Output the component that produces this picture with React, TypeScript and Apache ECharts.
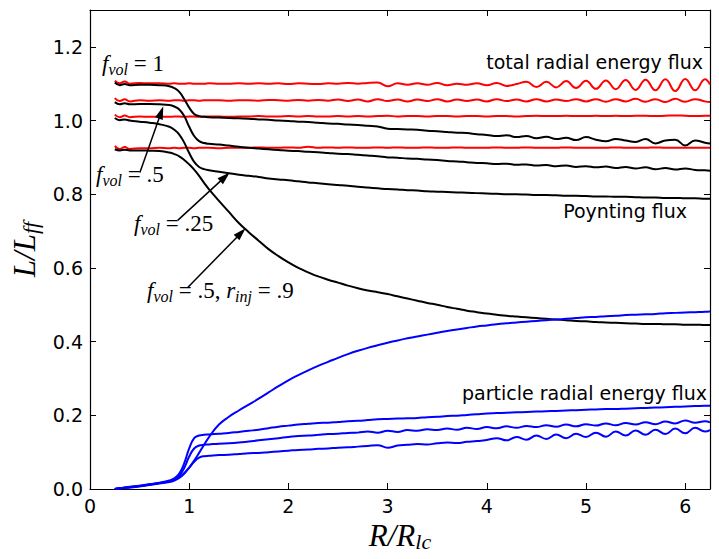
import React, { useEffect, useRef } from "react";
import * as echarts from "echarts";

// shared radius grid (R / R_lc)
const X = [
  0.25, 0.3, 0.35, 0.4, 0.5, 0.6, 0.7, 0.8, 0.85, 0.9, 0.95,
  1.0, 1.05, 1.1, 1.15, 1.2, 1.3, 1.4, 1.5,
  1.6, 1.7, 1.8, 1.9, 2.0, 2.1, 2.2, 2.3, 2.4, 2.5,
  2.6, 2.7, 2.8, 2.9, 3.0, 3.1, 3.2, 3.3, 3.4, 3.5,
  3.6, 3.7, 3.8, 3.9, 4.0, 4.1, 4.2, 4.3, 4.4, 4.5,
  4.6, 4.7, 4.8, 4.9, 5.0, 5.1, 5.2, 5.3, 5.4, 5.5,
  5.6, 5.7, 5.8, 5.9, 6.0, 6.1, 6.2, 6.25,
];

// total radial energy flux (red)
const TOTAL_1 = [
  1.108, 1.101, 1.106, 1.1, 1.102, 1.101, 1.101, 1.1, 1.101, 1.1, 1.1,
  1.101, 1.1, 1.1, 1.1, 1.101, 1.1, 1.1, 1.101,
  1.1, 1.101, 1.1, 1.101, 1.099, 1.101, 1.1, 1.099, 1.101, 1.1,
  1.102, 1.1, 1.102, 1.103, 1.093, 1.101, 1.097, 1.101, 1.097, 1.102,
  1.096, 1.1, 1.097, 1.101, 1.096, 1.102, 1.094, 1.099, 1.105, 1.091,
  1.105, 1.09, 1.107, 1.088, 1.108, 1.086, 1.109, 1.085, 1.11, 1.083,
  1.111, 1.082, 1.112, 1.08, 1.113, 1.082, 1.112, 1.098,
];
const TOTAL_2 = [
  1.061, 1.053, 1.058, 1.052, 1.055, 1.054, 1.055, 1.054, 1.055, 1.055, 1.054,
  1.055, 1.055, 1.054, 1.055, 1.055, 1.055, 1.054, 1.055,
  1.055, 1.054, 1.056, 1.055, 1.054, 1.056, 1.054, 1.056, 1.054, 1.057,
  1.053, 1.057, 1.052, 1.058, 1.053, 1.057, 1.052, 1.057, 1.053, 1.058,
  1.052, 1.057, 1.053, 1.057, 1.052, 1.058, 1.053, 1.057, 1.052, 1.058,
  1.052, 1.057, 1.053, 1.058, 1.052, 1.058, 1.051, 1.058, 1.052, 1.059,
  1.051, 1.058, 1.05, 1.059, 1.051, 1.058, 1.052, 1.05,
];
const TOTAL_3 = [
  1.016, 1.009, 1.014, 1.009, 1.011, 1.01, 1.011, 1.01, 1.011, 1.011, 1.01,
  1.011, 1.011, 1.01, 1.011, 1.011, 1.011, 1.01, 1.011,
  1.011, 1.012, 1.011, 1.011, 1.012, 1.011, 1.012, 1.011, 1.011, 1.012,
  1.011, 1.012, 1.011, 1.012, 1.013, 1.011, 1.012, 1.012, 1.011, 1.012,
  1.012, 1.011, 1.012, 1.012, 1.011, 1.012, 1.012, 1.011, 1.012, 1.013,
  1.012, 1.012, 1.013, 1.012, 1.012, 1.013, 1.012, 1.013, 1.012, 1.013,
  1.013, 1.012, 1.013, 1.014, 1.013, 1.012, 1.013, 1.013,
];
const TOTAL_4 = [
  0.931, 0.923, 0.928, 0.923, 0.925, 0.925, 0.926, 0.925, 0.926, 0.925, 0.926,
  0.926, 0.925, 0.926, 0.926, 0.926, 0.925, 0.926, 0.926,
  0.926, 0.927, 0.926, 0.926, 0.927, 0.926, 0.929, 0.926, 0.927, 0.926,
  0.927, 0.926, 0.926, 0.927, 0.926, 0.927, 0.926, 0.926, 0.927, 0.926,
  0.926, 0.927, 0.926, 0.926, 0.926, 0.927, 0.926, 0.926, 0.927, 0.926,
  0.926, 0.926, 0.927, 0.926, 0.926, 0.926, 0.926, 0.927, 0.926, 0.926,
  0.926, 0.927, 0.926, 0.926, 0.926, 0.926, 0.926, 0.926,
];

// Poynting flux (black)
const POYNT_1 = [
  1.103, 1.096, 1.099, 1.096, 1.097, 1.097, 1.096, 1.093, 1.088, 1.078, 1.058,
  1.035, 1.018, 1.012, 1.01, 1.009, 1.008, 1.007, 1.006,
  1.005, 1.003, 1.002, 1.0, 0.999, 0.997, 0.996, 0.994, 0.992, 0.991,
  0.989, 0.988, 0.986, 0.984, 0.978, 0.977, 0.976, 0.975, 0.972, 0.971,
  0.969, 0.967, 0.966, 0.963, 0.961, 0.958, 0.96, 0.955, 0.958, 0.952,
  0.956, 0.95, 0.953, 0.947, 0.955, 0.948, 0.944, 0.95, 0.946, 0.942,
  0.95, 0.938, 0.946, 0.948, 0.932, 0.946, 0.94, 0.938,
];
const POYNT_2 = [
  1.05, 1.044, 1.047, 1.044, 1.045, 1.045, 1.044, 1.042, 1.038, 1.03, 1.012,
  0.983, 0.958, 0.944, 0.939, 0.937, 0.935, 0.932, 0.929,
  0.926, 0.924, 0.922, 0.92, 0.918, 0.917, 0.915, 0.914, 0.912, 0.91,
  0.909, 0.907, 0.905, 0.903, 0.9, 0.899, 0.897, 0.896, 0.894, 0.893,
  0.89, 0.889, 0.887, 0.885, 0.884, 0.882, 0.883, 0.88, 0.881, 0.878,
  0.879, 0.876, 0.878, 0.874, 0.876, 0.873, 0.875, 0.871, 0.874, 0.87,
  0.873, 0.868, 0.871, 0.867, 0.87, 0.866, 0.865, 0.864,
];
const POYNT_3 = [
  1.007, 1.001, 1.003, 1.0, 0.997, 0.994, 0.99, 0.983, 0.975, 0.962, 0.94,
  0.912, 0.888, 0.874, 0.868, 0.865, 0.861, 0.857, 0.853,
  0.85, 0.847, 0.843, 0.84, 0.838, 0.835, 0.832, 0.83, 0.827, 0.825,
  0.823, 0.82, 0.818, 0.816, 0.814, 0.813, 0.811, 0.81, 0.808, 0.807,
  0.806, 0.805, 0.804, 0.803, 0.802, 0.801, 0.8, 0.8, 0.799, 0.798,
  0.798, 0.797, 0.796, 0.796, 0.795, 0.794, 0.794, 0.793, 0.793, 0.792,
  0.791, 0.791, 0.79, 0.79, 0.789, 0.789, 0.788, 0.788,
];
const POYNT_4 = [
  0.922, 0.919, 0.921, 0.919, 0.919, 0.918, 0.917, 0.913, 0.909, 0.903, 0.893,
  0.881, 0.867, 0.85, 0.831, 0.813, 0.782, 0.752, 0.722,
  0.697, 0.674, 0.651, 0.632, 0.615, 0.6, 0.588, 0.577, 0.568, 0.56,
  0.552, 0.545, 0.539, 0.534, 0.529, 0.523, 0.517, 0.511, 0.505, 0.5,
  0.494, 0.489, 0.484, 0.48, 0.476, 0.473, 0.47, 0.468, 0.466, 0.464,
  0.462, 0.46, 0.458, 0.456, 0.455, 0.453, 0.452, 0.451, 0.45, 0.449,
  0.448, 0.448, 0.447, 0.447, 0.446, 0.446, 0.445, 0.445,
];

// particle radial energy flux (blue)
const PART_1 = [
  0.0, 0.002, 0.004, 0.005, 0.008, 0.012, 0.016, 0.021, 0.025, 0.032, 0.043,
  0.058, 0.077, 0.098, 0.12, 0.141, 0.175, 0.196, 0.213,
  0.229, 0.245, 0.262, 0.279, 0.295, 0.309, 0.322, 0.334, 0.345, 0.356,
  0.366, 0.375, 0.383, 0.39, 0.397, 0.403, 0.409, 0.414, 0.419, 0.424,
  0.429, 0.433, 0.437, 0.441, 0.444, 0.447, 0.45, 0.452, 0.454, 0.456,
  0.458, 0.46, 0.462, 0.464, 0.466, 0.467, 0.469, 0.47, 0.472, 0.473,
  0.474, 0.475, 0.477, 0.478, 0.479, 0.48, 0.481, 0.482,
];
const PART_2 = [
  0.0, 0.002, 0.004, 0.006, 0.009, 0.013, 0.017, 0.023, 0.029, 0.042, 0.07,
  0.11, 0.138, 0.145, 0.147, 0.148, 0.15, 0.152, 0.155,
  0.158, 0.161, 0.165, 0.169, 0.172, 0.175, 0.177, 0.179, 0.18, 0.182,
  0.184, 0.185, 0.187, 0.189, 0.19, 0.191, 0.192, 0.193, 0.195, 0.196,
  0.198, 0.199, 0.201, 0.203, 0.205, 0.206, 0.207, 0.208, 0.209, 0.21,
  0.211, 0.212, 0.213, 0.214, 0.215, 0.216, 0.217, 0.217, 0.218, 0.219,
  0.22, 0.221, 0.222, 0.223, 0.224, 0.225, 0.226, 0.226,
];
const PART_3 = [
  0.0, 0.002, 0.003, 0.005, 0.008, 0.012, 0.016, 0.021, 0.026, 0.036, 0.057,
  0.088, 0.11, 0.118, 0.12, 0.121, 0.123, 0.124, 0.126,
  0.129, 0.132, 0.135, 0.138, 0.141, 0.144, 0.145, 0.147, 0.149, 0.15,
  0.152, 0.153, 0.156, 0.153, 0.158, 0.155, 0.16, 0.158, 0.162, 0.16,
  0.164, 0.161, 0.166, 0.163, 0.168, 0.165, 0.17, 0.166, 0.171, 0.168,
  0.173, 0.169, 0.175, 0.17, 0.176, 0.172, 0.178, 0.173, 0.179, 0.175,
  0.181, 0.176, 0.183, 0.178, 0.186, 0.18, 0.184, 0.181,
];
const PART_4 = [
  0.0, 0.002, 0.003, 0.004, 0.007, 0.011, 0.015, 0.019, 0.023, 0.03, 0.042,
  0.058, 0.074, 0.085, 0.089, 0.09, 0.092, 0.093, 0.095,
  0.097, 0.098, 0.1, 0.102, 0.104, 0.106, 0.107, 0.109, 0.11, 0.112,
  0.113, 0.115, 0.117, 0.119, 0.112, 0.118, 0.12, 0.122, 0.121, 0.124,
  0.126, 0.125, 0.128, 0.13, 0.133, 0.138, 0.132, 0.141, 0.134, 0.145,
  0.136, 0.148, 0.138, 0.15, 0.141, 0.153, 0.142, 0.156, 0.145, 0.159,
  0.147, 0.161, 0.149, 0.164, 0.151, 0.166, 0.156, 0.16,
];

// annotation arrows: [tail, head] in data coordinates
const ARROWS = [
  [[0.503, 0.859], [0.717, 1.022]],
  [[0.884, 0.729], [1.361, 0.847]],
  [[0.985, 0.547], [1.523, 0.695]],
];

const X_TICKS = [0, 1, 2, 3, 4, 5, 6];
const Y_TICK_STEP = 0.2;

const GROUPS = [
  { color: "#ff0000", lines: [TOTAL_1, TOTAL_2, TOTAL_3, TOTAL_4] },
  { color: "#000000", lines: [POYNT_1, POYNT_2, POYNT_3, POYNT_4] },
  { color: "#0000ff", lines: [PART_1, PART_2, PART_3, PART_4] },
];

const SERIF = '"Liberation Serif", "Times New Roman", serif';
const SANS = '"DejaVu Sans", sans-serif';

export default function App() {
  const ref = useRef<HTMLDivElement>(null);

  useEffect(() => {
    document.body.style.margin = "0";
    const chart = echarts.init(ref.current as HTMLDivElement, undefined, { renderer: "svg" });

    const series: any[] = [];
    GROUPS.forEach((g, gi) => {
      g.lines.forEach((ys, li) => {
        const s: any = {
          type: "line",
          data: X.map((x, i) => [x, ys[i]]),
          showSymbol: false,
          symbol: "none",
          smooth: 0.45,
          lineStyle: { color: g.color, width: 2 },
          itemStyle: { color: g.color },
          silent: true,
          z: 2 + gi,
        };
        if (gi === 1 && li === 3) {
          s.markLine = {
            silent: true,
            animation: false,
            symbol: ["none", "triangle"],
            symbolSize: [8, 13],
            label: { show: false },
            lineStyle: { color: "#000", width: 1.5, type: "solid" },
            data: ARROWS.map((a) => [{ coord: a[0] }, { coord: a[1] }]),
          };
        }
        series.push(s);
      });
    });

    const axisLine = { show: true, onZero: false, lineStyle: { color: "#000", width: 1.2 } };
    const axisTick = { show: true, inside: true, length: 6, lineStyle: { color: "#000", width: 1 } };
    const nameRich = {
      i: { fontFamily: SERIF, fontStyle: "italic", fontSize: 31, lineHeight: 34, color: "#000" },
      s: { fontFamily: SERIF, fontStyle: "italic", fontSize: 22, lineHeight: 22, verticalAlign: "bottom", color: "#000" },
    };

    const fRich = {
      f: { font: `italic 23px ${SERIF}`, lineHeight: 28, fill: "#000" },
      s: { font: `italic 16px ${SERIF}`, lineHeight: 15, verticalAlign: "bottom", fill: "#000" },
      n: { font: `23px ${SERIF}`, lineHeight: 28, fill: "#000" },
    };

    const fLabel = (text: string, left: number, top: number) => ({
      type: "text",
      left,
      top,
      z: 100,
      style: { text, rich: fRich, fill: "#000" },
    });
    const sansLabel = (text: string, x: number, y: number) => ({
      type: "text",
      x,
      y,
      z: 100,
      style: { text, font: `19px ${SANS}`, fill: "#000", align: "right", verticalAlign: "middle" },
    });

    const option: any = {
      animation: false,
      backgroundColor: "#ffffff",
      grid: { left: 90, right: 9, top: 10, bottom: 70, containLabel: false },
      xAxis: [
        {
          type: "value",
          min: X_TICKS[0],
          max: 6.25,
          interval: 1,
          position: "bottom",
          name: "{i|R/R}{s|lc}",
          nameLocation: "middle",
          nameGap: 20,
          nameTextStyle: { rich: nameRich },
          axisLine,
          axisTick,
          axisLabel: { color: "#000", fontFamily: SANS, fontSize: 19, margin: 7, showMaxLabel: false },
          splitLine: { show: false },
        },
        {
          type: "value",
          min: X_TICKS[0],
          max: 6.25,
          interval: 1,
          position: "top",
          axisLine,
          axisTick,
          axisLabel: { show: false },
          splitLine: { show: false },
        },
      ],
      yAxis: [
        {
          type: "value",
          min: 0,
          max: 1.3,
          interval: Y_TICK_STEP,
          position: "left",
          name: "{i|L/L}{s|ff}",
          nameLocation: "middle",
          nameRotate: 90,
          nameGap: 48,
          nameTextStyle: { rich: nameRich },
          axisLine,
          axisTick,
          axisLabel: {
            color: "#000",
            fontFamily: SANS,
            fontSize: 19,
            margin: 7,
            showMaxLabel: false,
            formatter: (v: number) => v.toFixed(1),
          },
          splitLine: { show: false },
        },
        {
          type: "value",
          min: 0,
          max: 1.3,
          interval: Y_TICK_STEP,
          position: "right",
          axisLine,
          axisTick,
          axisLabel: { show: false },
          splitLine: { show: false },
        },
      ],
      series,
      graphic: [
        fLabel("{f|f}{s|vol}{n| = 1}", 102, 52),
        fLabel("{f|f}{s|vol}{n| = .5}", 96, 163),
        fLabel("{f|f}{s|vol}{n| = .25}", 134, 212),
        fLabel("{f|f}{s|vol}{n| = .5, }{f|r}{s|inj}{n| = .9}", 147, 279),
        sansLabel("total radial energy flux", 703, 62),
        sansLabel("Poynting flux", 687, 211),
        sansLabel("particle radial energy flux", 707, 393),
      ],
    };

    chart.setOption(option);
    return () => chart.dispose();
  }, []);

  return <div ref={ref} style={{ width: 719, height: 559, position: "absolute", left: 0, top: 0 }} />;
}
